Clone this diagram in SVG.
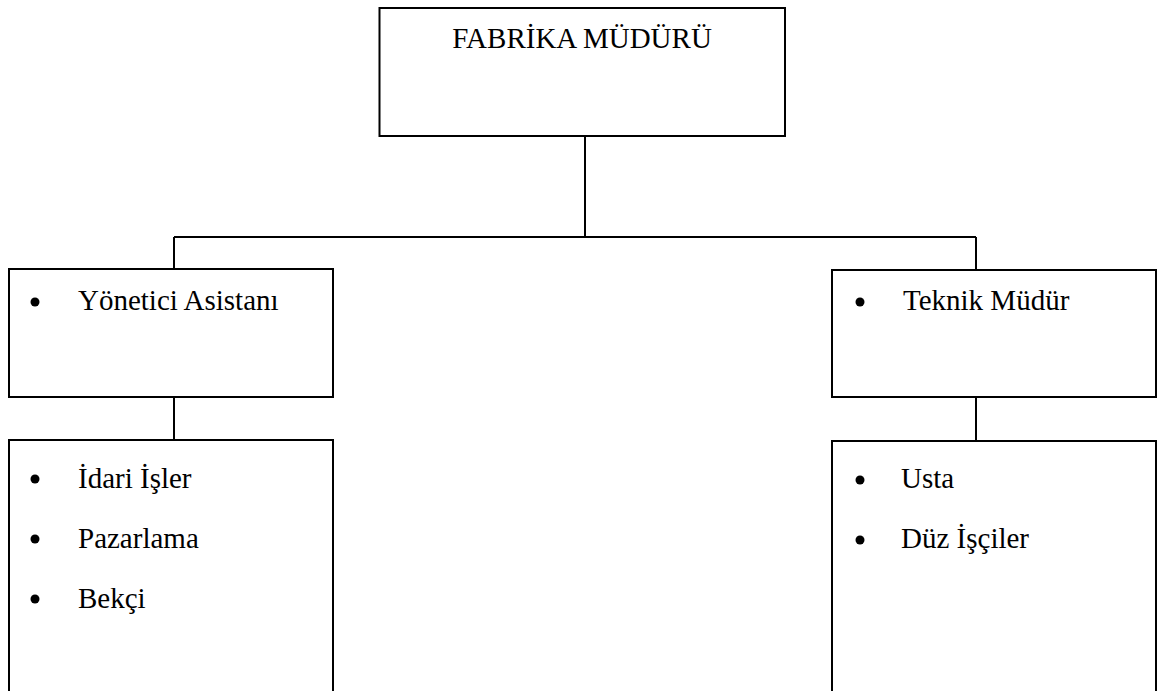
<svg xmlns="http://www.w3.org/2000/svg" width="1159" height="691" viewBox="0 0 1159 691" font-family="'Liberation Serif', 'Times New Roman', serif">
<style>
.box{fill:#fff;stroke:#000;stroke-width:2}
.ln{fill:none;stroke:#000;stroke-width:2}
.t{font-size:29px;fill:#000}
.b{fill:#000}
</style>
<rect width="1159" height="691" fill="#fff"/>
<g id="connectors">
<path class="ln" d="M585 136V237M174 237H976M174 237V269M976 237V270M174 397V440M976 397V441"/>
</g>
<g id="fabrika-muduru">
<rect class="box" x="379.5" y="8" width="405.5" height="128"/>
<text class="t" x="582" y="48" text-anchor="middle">FABRİKA MÜDÜRÜ</text>
</g>
<g id="yonetici-asistani">
<rect class="box" x="9" y="269" width="324" height="128"/>
<circle class="b" cx="35" cy="302" r="4.5"/>
<text class="t" x="78" y="310">Yönetici Asistanı</text>
</g>
<g id="teknik-mudur">
<rect class="box" x="832" y="270" width="324" height="127"/>
<circle class="b" cx="860" cy="302" r="4.5"/>
<text class="t" x="903" y="310">Teknik Müdür</text>
</g>
<g id="idari-grup">
<rect class="box" x="9" y="440" width="324" height="260"/>
<circle class="b" cx="35" cy="479" r="4.5"/>
<text class="t" x="78" y="488">İdari İşler</text>
<circle class="b" cx="35" cy="539" r="4.5"/>
<text class="t" x="78" y="548">Pazarlama</text>
<circle class="b" cx="35" cy="599" r="4.5"/>
<text class="t" x="78" y="608">Bekçi</text>
</g>
<g id="teknik-grup">
<rect class="box" x="832" y="441" width="324" height="260"/>
<circle class="b" cx="860" cy="480" r="4.5"/>
<text class="t" x="901" y="488">Usta</text>
<circle class="b" cx="860" cy="540" r="4.5"/>
<text class="t" x="901" y="548">Düz İşçiler</text>
</g>
</svg>
